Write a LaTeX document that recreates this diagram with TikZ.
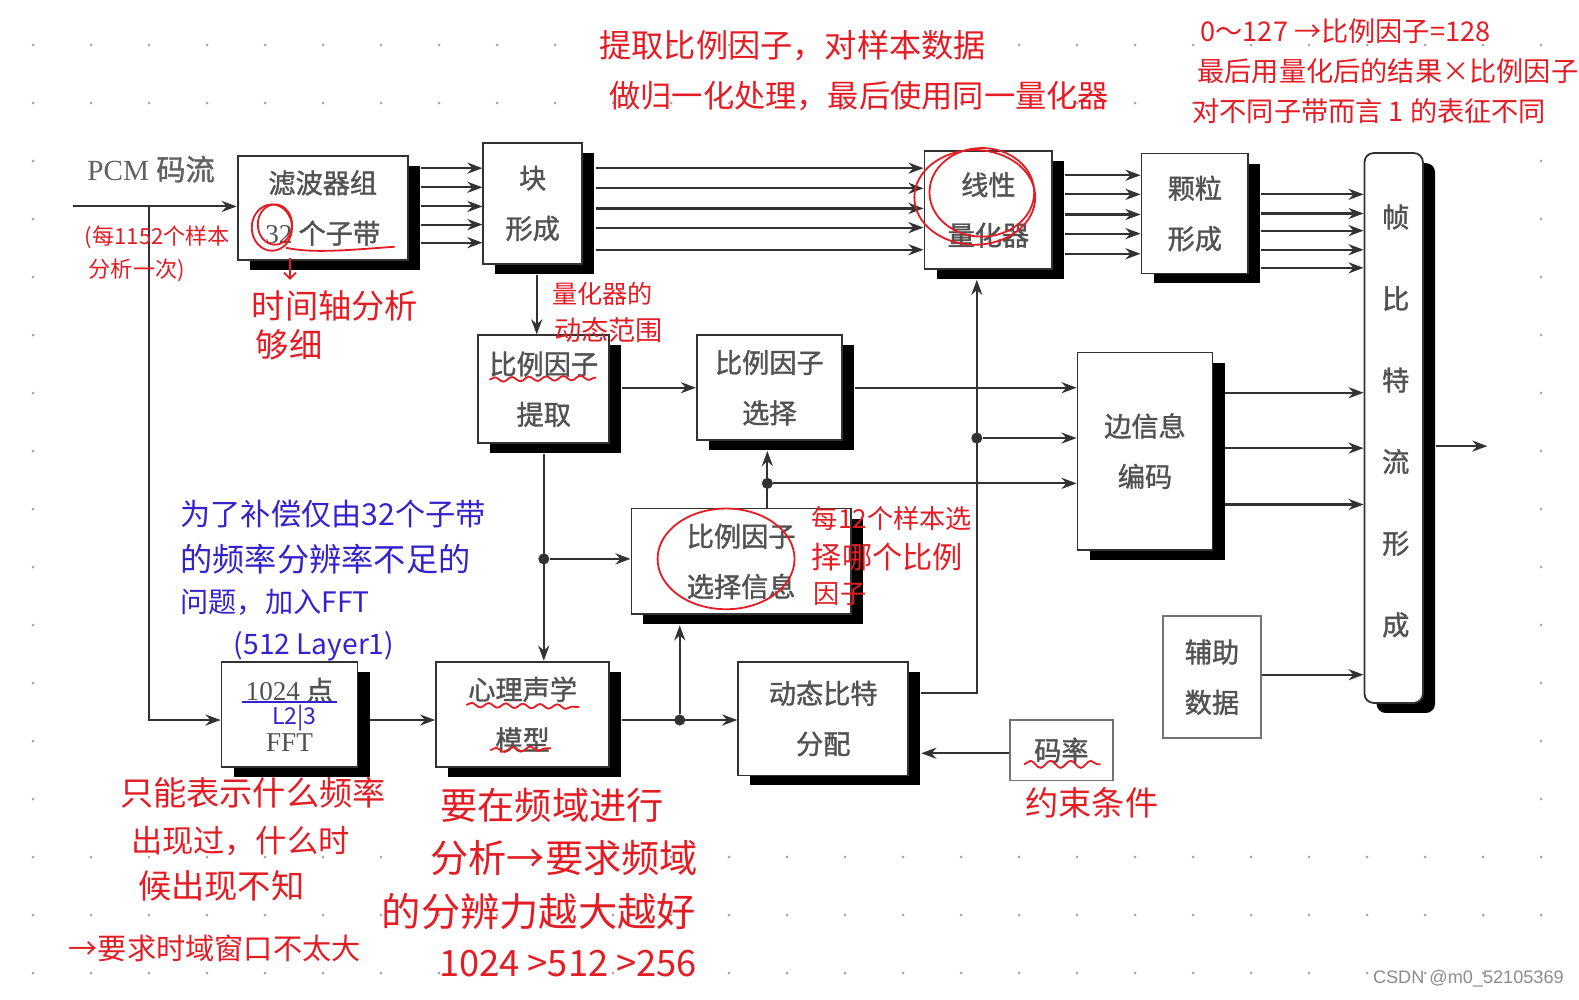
\documentclass[tikz,border=0pt]{standalone}
\usepackage{fontspec}
\setmainfont{Liberation Serif}
\newfontfamily\cjk{Noto Sans CJK SC}
\newfontfamily\cjkbox[FakeBold=1.3]{Noto Sans CJK SC}
\newfontfamily\wmfont{Liberation Sans}
\usetikzlibrary{arrows.meta,shadows,decorations.pathmorphing}
\definecolor{penred}{RGB}{228,28,36}
\definecolor{penblue}{RGB}{52,34,205}
\definecolor{dotgray}{RGB}{165,165,165}
\definecolor{inkgray}{RGB}{50,50,50}
\newcommand\hand[1]{\cjk\fontsize{#1}{#1}\selectfont}

\tikzset{
  blockbox/.style={draw=inkgray, line width=1.8pt, fill=white, inner sep=0pt, align=center,
    text=black!68, font=\cjkbox\fontsize{27}{50}\selectfont,
    drop shadow={shadow xshift=12pt, shadow yshift=-10pt, opacity=1, fill=black}},
  plainbox/.style={draw=black!55, line width=1.6pt, fill=white, inner sep=0pt, align=center,
    text=black!68, font=\cjkbox\fontsize{27}{50}\selectfont},
  link/.style={draw=inkgray, line width=2.1pt},
  arr/.style={link, -{Stealth[length=15pt,width=11pt]}},
  junction/.style={circle, fill=inkgray, inner sep=0pt, minimum size=11pt},
  rednote/.style={text=penred, anchor=west, inner sep=0pt},
  bluenote/.style={text=penblue, anchor=west, inner sep=0pt},
  redpen/.style={draw=penred, line width=1.8pt},
  wavy/.style={redpen, decorate, decoration={snake, amplitude=2.2pt, segment length=17pt}},
}

\begin{document}
\begin{tikzpicture}[x=1pt, y=-1pt]
  \useasboundingbox (0,0) rectangle (1568,993);
  \fill[white] (0,0) rectangle (1568,993);

  % dotted paper
  \foreach \i in {0,...,26}
    \foreach \j in {0,...,16}
      \fill[dotgray] ({32.8+57.6*\i},{44.7+57.6*\j}) circle (1.5pt);
  \fill[white] (62,128) rectangle (1500,800);

  % blocks
  \node[text=black!62, font=\fontsize{29}{29}\selectfont] (pcm) at (150,168) {PCM {\cjkbox 码流}};
  \node[blockbox, minimum width=169pt, minimum height=103pt] (filt) at (320.5,206.5) {滤波器组\\{\rmfamily 32} 个子带};
  \node[blockbox, minimum width=98pt, minimum height=120pt] (blk) at (529,202) {块\\形成};
  \node[blockbox, minimum width=127pt, minimum height=117pt] (quant) at (981.5,208.5) {线性\\量化器};
  \node[blockbox, minimum width=106pt, minimum height=119pt] (gran) at (1186.5,212) {颗粒\\形成};
  \node[blockbox, rounded corners=9pt, minimum width=58pt, minimum height=546pt] (frame) at (1384,425) {};
  \node[text=black!68, font=\cjkbox\fontsize{27}{81}\selectfont, align=center] (frametxt) at (1386,418) {帧\\比\\特\\流\\形\\成};
  \node[blockbox, minimum width=130pt, minimum height=107pt] (sfext) at (540,386.5) {比例因子\\提取};
  \node[blockbox, minimum width=144pt, minimum height=104pt] (sfsel) at (764,385) {比例因子\\选择};
  \node[blockbox, minimum width=134pt, minimum height=196pt] (side) at (1137,448) {边信息\\编码};
  \node[blockbox, minimum width=218pt, minimum height=105pt] (sfsi) at (736,557.5) {比例因子\\选择信息};
  \node[blockbox, minimum width=135pt, minimum height=105pt] (fft) at (287.5,709.5) {{\rmfamily 1024} 点\\{\rmfamily FFT}};
  \node[blockbox, minimum width=172pt, minimum height=105pt] (psy) at (519,709.5) {心理声学\\模型};
  \node[blockbox, minimum width=169pt, minimum height=113pt] (dba) at (817.5,713.5) {动态比特\\分配};
  \node[plainbox, minimum width=102pt, minimum height=60pt] (rate) at (1054,745) {码率};
  \node[plainbox, minimum width=97pt, minimum height=121pt] (anc) at (1203.5,672.5) {辅助\\数据};

  \coordinate (pcmin) at (72,205);
  \coordinate (br) at (148,205);
  \coordinate (out) at (1477,443);
  \node[junction] (j1) at (970,435) {};
  \node[junction] (j2) at (762,480) {};
  \node[junction] (j3) at (540,555) {};
  \node[junction] (j4) at (675,715) {};

  % connectors
  \draw[arr] (pcmin) -- (filt.west |- pcmin);
  \draw[arr] (br) |- (fft.west |- 0,715);
  \foreach \y in {167,186,205,223,241}
    \draw[arr, shorten <=12pt] (filt.east |- 0,\y) -- (blk.west |- 0,\y);
  \foreach \y in {167,187,207,226,248}
    \draw[arr, shorten <=13pt] (blk.east |- 0,\y) -- (quant.west |- 0,\y);
  \foreach \y in {174,193,213,232,252}
    \draw[arr, shorten <=12pt] (quant.east |- 0,\y) -- (gran.west |- 0,\y);
  \foreach \y in {193,212,229,248,266}
    \draw[arr, shorten <=12pt] (gran.east |- 0,\y) -- (frame.west |- 0,\y);
  \draw[arr, shorten <=10pt] (blk.south -| 533,0) -- (sfext.north -| 533,0);
  \draw[arr, shorten <=12pt] (sfext.east |- 0,385) -- (sfsel.west |- 0,385);
  \draw[arr, shorten <=12pt] (sfsel.east |- 0,385) -- (side.west |- 0,385);
  \draw[arr, shorten <=12pt, shorten >=10pt] (dba.east |- 0,688) -| (quant.south -| j1);
  \draw[arr] (j1) -- (side.west |- j1);
  \draw[arr, shorten >=10pt] (sfsi.north -| j2) -- (sfsel.south -| j2);
  \draw[arr] (j2) -- (side.west |- j2);
  \draw[arr, shorten <=10pt] (sfext.south -| j3) -- (psy.north -| j3);
  \draw[arr] (j3) -- (sfsi.west |- j3);
  \draw[arr, shorten <=12pt] (fft.east |- 0,715) -- (psy.west |- 0,715);
  \draw[arr, shorten <=12pt] (psy.east |- j4) -- (dba.west |- j4);
  \draw[arr, shorten >=10pt] (j4) -- (sfsi.south -| j4);
  \draw[arr, shorten >=12pt] (rate.west |- 0,748) -- (dba.east |- 0,748);
  \draw[arr] (anc.east |- 0,670) -- (frame.west |- 0,670);
  \foreach \y in {390,445,501}
    \draw[arr, shorten <=12pt] (side.east |- 0,\y) -- (frame.west |- 0,\y);
  \draw[arr, shorten <=12pt] (frame.east |- out) -- (out);

  % red pen marks
  \draw[redpen] (270,226) ellipse (20 and 23);
  \draw[redpen] (273,223) ellipse (17 and 20);
  \draw[redpen] (284,246) .. controls (310,252) and (350,248) .. (392,245);
  \draw[redpen, -{Straight Barb[length=6pt]}] (288,256) -- (288,278);
  \draw[redpen] (968,196) ellipse (60 and 47);
  \draw[redpen] (975,191) ellipse (52 and 44);
  \draw[redpen] (721,555) ellipse (68 and 50);
  \draw[wavy] (486,377) -- (592,375);
  \draw[wavy] (463,700) -- (575,702);
  \draw[wavy] (487,745) -- (547,743);
  \draw[redpen, decorate, decoration={snake, amplitude=3.5pt, segment length=20pt}] (1017,759) -- (1093,759);
  \draw[draw=penblue, line width=1.8pt] (240,697) -- (335,697);

  % notes
  \node[rednote, font=\hand{32}] (nA1) at (595,45) {提取比例因子，对样本数据};
  \node[rednote, font=\hand{31}] (nA2) at (605,95) {做归一化处理，最后使用同一量化器};
  \node[rednote, font=\hand{27}] (nB1) at (1192,31) {0～127 →比例因子=128};
  \node[rednote, font=\hand{27}] (nB2) at (1189,71) {最后用量化后的结果×比例因子};
  \node[rednote, font=\hand{27}] (nB3) at (1184,110) {对不同子带而言 1 的表征不同};
  \node[rednote, font=\hand{22}] (nC1) at (84,236) {(每1152个样本};
  \node[rednote, font=\hand{22}] (nC2) at (88,268) {分析一次)};
  \node[rednote, font=\hand{33}] (nD1) at (250,304) {时间轴分析};
  \node[rednote, font=\hand{33}] (nD2) at (254,342) {够细};
  \node[rednote, font=\hand{25}] (nE1) at (548,292) {量化器的};
  \node[rednote, font=\hand{27}] (nE2) at (550,328) {动态范围};
  \node[rednote, font=\hand{26}] (nF1) at (806,515) {每12个样本选};
  \node[rednote, font=\hand{30}] (nF2) at (806,553) {择哪个比例};
  \node[rednote, font=\hand{26}] (nF3) at (808,590) {因子};
  \node[bluenote, font=\hand{30}] (nG1) at (179,510) {为了补偿仅由32个子带};
  \node[bluenote, font=\hand{32}] (nG2) at (179,555) {的频率分辨率不足的};
  \node[bluenote, font=\hand{28}] (nG3) at (179,598) {问题，加入FFT};
  \node[bluenote, font=\hand{28}] (nG4) at (232,642) {(512 Layer1)};
  \node[bluenote, font=\hand{23}] (nG5) at (270,713) {L2|3};
  \node[rednote, font=\hand{33}] (nH1) at (119,787) {只能表示什么频率};
  \node[rednote, font=\hand{31}] (nH2) at (130,835) {出现过，什么时};
  \node[rednote, font=\hand{33}] (nH3) at (137,880) {候出现不知};
  \node[rednote, font=\hand{29}] (nH4) at (68,942) {→要求时域窗口不太大};
  \node[rednote, font=\hand{37}] (nI1) at (437,800) {要在频域进行};
  \node[rednote, font=\hand{38}] (nI2) at (427,852) {分析→要求频域};
  \node[rednote, font=\hand{39}] (nI3) at (379,905) {的分辨力越大越好};
  \node[rednote, font=\hand{36}] (nI4) at (436,957) {1024 >512 >256};
  \node[rednote, font=\hand{33}] (nJ) at (1018,797) {约束条件};
  \node[text=black!45, font=\wmfont\fontsize{18}{18}\selectfont, anchor=east, inner sep=0pt] (wm) at (1553,972) {CSDN @m0\_52105369};
\end{tikzpicture}
\end{document}
